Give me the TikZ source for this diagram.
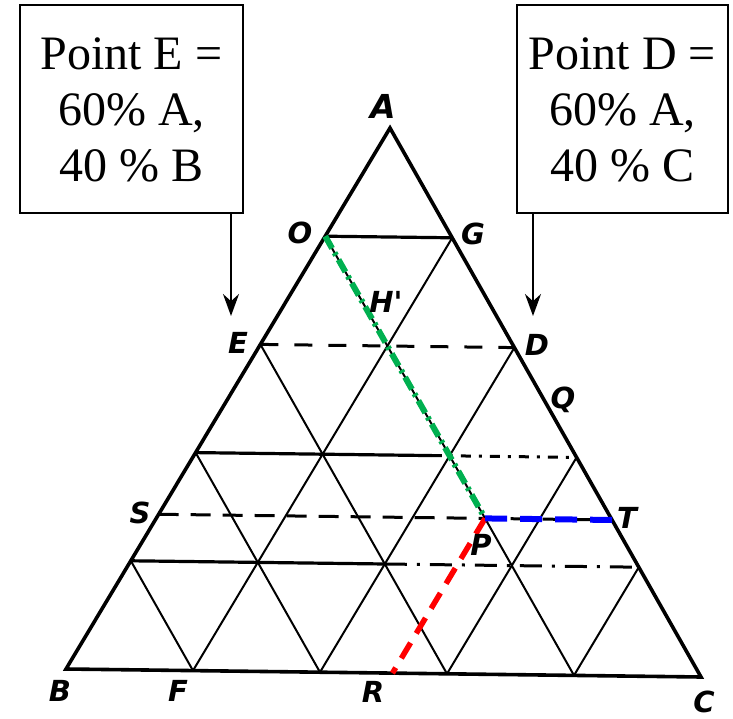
\documentclass[tikz,border=0pt]{standalone}
\usepackage{fontspec}
\setmainfont{Liberation Serif}
\newfontfamily\labfont{DejaVu Sans}
\usetikzlibrary{calc,arrows.meta}
\definecolor{ogreen}{RGB}{0,176,80}
\begin{document}
\begin{tikzpicture}[x=1pt,y=-1pt,
  side/.style={line width=3.6pt,line cap=round},
  gridline/.style={line width=2pt},
  hsolid/.style={line width=3.2pt},
  hdash/.style={line width=3pt,dash pattern=on 18pt off 16pt},
  box/.style={draw,line width=1.6pt,fill=white,inner sep=0pt},
  boxtext/.style={font=\fontsize{48}{56}\selectfont,align=center},
  lab/.style={font=\labfont\bfseries\itshape\fontsize{29}{29}\selectfont,inner sep=0pt},
  greenln/.style={ogreen,line width=6pt,dash pattern=on 14pt off 5pt on 3pt off 5pt},
  redln/.style={red,line width=5.5pt,dash pattern=on 18pt off 11pt},
  blueln/.style={blue,line width=6pt,dash pattern=on 22pt off 13pt},
  arr/.style={line width=2pt,-{Stealth[length=22pt,width=16pt]}}]
\useasboundingbox (0,0) rectangle (733,719);
\coordinate (A) at (390,128);
\coordinate (B) at (66,669);
\coordinate (C) at (701,677);
\foreach \k in {1,2,3,4}{
  \coordinate (ab\k) at ($(A)!\k/5!(B)$);
  \coordinate (ac\k) at ($(A)!\k/5!(C)$);
  \coordinate (bc\k) at ($(B)!\k/5!(C)$);
}
% grid lines parallel to AC and AB
\foreach \k/\j in {1/4,2/3,3/2,4/1}{
  \draw[gridline] (ab\k) -- (bc\j);
  \draw[gridline] (ac\k) -- (bc\k);
}
% horizontal lines
\draw[hsolid] (ab1) -- (ac1);
\draw[hdash] (ab2) -- (ac2);
\coordinate (m3) at ($(ab3)!0.62!(ac3)$);
\draw[hsolid] (ab3) -- (m3);
\draw[hdash,dash pattern=on 10pt off 8pt on 3pt off 8pt] (m3) -- (ac3);
\coordinate (m4) at ($(ab4)!0.5!(ac4)$);
\draw[hsolid] (ab4) -- (m4);
\draw[hdash,dash pattern=on 22pt off 10pt on 3pt off 10pt] (m4) -- (ac4);
\coordinate (S) at ($(A)!0.714!(B)$);
\coordinate (T) at ($(A)!0.714!(C)$);
\draw[hdash,dash pattern=on 20pt off 12pt] (S) -- (T);
% sides
\draw[side] (A) -- (B) -- (C) -- cycle;
% special lines
\coordinate (P) at (intersection of ab1--bc4 and S--T);
\coordinate (Pd) at ($(P)+(B)-(A)$);
\coordinate (R) at (intersection of P--Pd and B--C);
\draw[greenln] (ab1) -- (P);
\draw[redln] (P) -- (R);
\draw[blueln] (P) -- (T);
% labels
\node[lab,font=\labfont\bfseries\itshape\fontsize{33}{33}\selectfont] (lA) at (383,106) {A};
\node[lab] (lO) at (300,233) {O};
\node[lab] (lG) at (473,234) {G};
\node[lab] (lH) at (386,302) {H'};
\node[lab] (lE) at (238,343) {E};
\node[lab] (lD) at (537,345) {D};
\node[lab] (lQ) at (563,400) {Q};
\node[lab] (lS) at (140,513) {S};
\node[lab] (lT) at (627,518) {T};
\node[lab] (lP) at (481,545) {P};
\node[lab] (lB) at (60,691) {B};
\node[lab] (lF) at (178,691) {F};
\node[lab] (lR) at (373,692) {R};
\node[lab] (lC) at (704,702) {C};
% boxes
\node[box,minimum width=223pt,minimum height=208pt] (boxE) at (131.5,109) {};
\node[boxtext] (tE) at (131.5,110) {Point E =\\60\% A,\\40 \% B};
\node[box,minimum width=211pt,minimum height=208pt] (boxD) at (622.5,109) {};
\node[boxtext] (tD) at (622.5,110) {Point D =\\60\% A,\\40 \% C};
\coordinate (eTop) at (231,213);
\coordinate (eTip) at (231,316);
\coordinate (dTop) at (533,213);
\coordinate (dTip) at (533,316);
\draw[arr] (eTop) -- (eTip);
\draw[arr] (dTop) -- (dTip);
\end{tikzpicture}
\end{document}
